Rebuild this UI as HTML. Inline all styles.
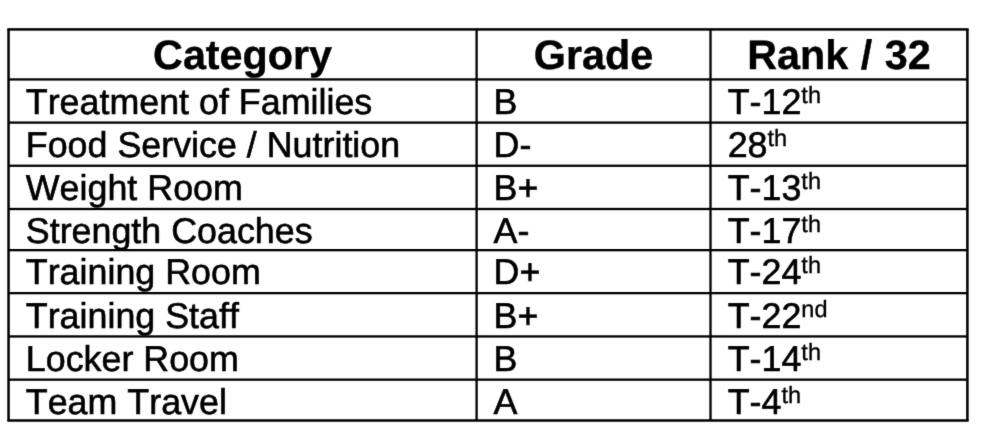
<!DOCTYPE html>
<html lang="en"><head><meta charset="utf-8"><title>Grades</title>
<style>
html,body{margin:0;padding:0;background:#fff;}
body{width:1000px;height:430px;position:relative;overflow:hidden;font-family:"Liberation Sans",sans-serif;color:#000;font-kerning:none;text-rendering:geometricPrecision;-webkit-text-stroke:0.6px #000;}
#wrap{position:absolute;left:0;top:0;width:1000px;height:430px;filter:url(#soft);}
.t{position:absolute;top:0;white-space:nowrap;font-size:35.85px;line-height:0;}
.h{position:absolute;top:0;white-space:nowrap;font-size:41.3px;line-height:0;font-weight:bold;text-align:center;-webkit-text-stroke:0.4px #000;word-spacing:1px;}
i{display:inline-block;width:0;vertical-align:baseline;}
sup{-webkit-text-stroke:0.35px #000;font-size:23.5px;vertical-align:baseline;position:relative;top:-11px;line-height:0;}
</style></head><body><div id="wrap">
<svg width="0" height="0" style="position:absolute"><defs><filter id="soft" x="0" y="0" width="100%" height="100%" color-interpolation-filters="sRGB"><feConvolveMatrix order="3" kernelMatrix="0.01 0.08 0.01 0.08 0.64 0.08 0.01 0.08 0.01" divisor="1" edgeMode="duplicate" preserveAlpha="false"/></filter></defs></svg>
<svg width="1000" height="430" viewBox="0 0 1000 430" style="position:absolute;left:0;top:0" fill="#000">
<rect x="7.30" y="28.16" width="961.35" height="2.50"/>
<rect x="7.30" y="419.25" width="961.35" height="2.50"/>
<rect x="8.55" y="78.29" width="958.85" height="2.30"/>
<rect x="8.55" y="121.45" width="958.85" height="2.30"/>
<rect x="8.55" y="164.60" width="958.85" height="2.30"/>
<rect x="8.55" y="207.85" width="958.85" height="2.30"/>
<rect x="8.55" y="249.00" width="958.85" height="2.30"/>
<rect x="8.55" y="292.00" width="958.85" height="2.30"/>
<rect x="8.55" y="335.29" width="958.85" height="2.30"/>
<rect x="8.55" y="378.50" width="958.85" height="2.30"/>
<rect x="7.30" y="29.41" width="2.50" height="391.09"/>
<rect x="966.15" y="29.41" width="2.50" height="391.09"/>
<rect x="475.45" y="29.41" width="2.30" height="391.09"/>
<rect x="709.35" y="29.41" width="2.30" height="391.09"/>
</svg>
<div class="h" style="left:8.55px;width:468.05px"><i style="height:69px"></i>Category</div>
<div class="h" style="left:476.60px;width:233.90px"><i style="height:69px"></i>Grade</div>
<div class="h" style="left:710.50px;width:256.90px"><i style="height:69px"></i>Rank / 32</div>
<div class="t" style="left:25.80px"><i style="height:114px"></i>Treatment of Families</div>
<div class="t" style="left:493.60px"><i style="height:114px"></i>B</div>
<div class="t" style="left:727.70px"><i style="height:114px"></i>T-12<sup>th</sup></div>
<div class="t" style="left:25.80px"><i style="height:157px"></i>Food Service / Nutrition</div>
<div class="t" style="left:493.60px"><i style="height:157px"></i>D-</div>
<div class="t" style="left:727.70px"><i style="height:157px"></i>28<sup>th</sup></div>
<div class="t" style="left:25.80px"><i style="height:200px"></i>Weight Room</div>
<div class="t" style="left:493.60px"><i style="height:200px"></i>B+</div>
<div class="t" style="left:727.70px"><i style="height:200px"></i>T-13<sup>th</sup></div>
<div class="t" style="left:25.80px;height:250px;overflow:hidden"><i style="height:243px"></i>Strength Coaches</div>
<div class="t" style="left:493.60px"><i style="height:243px"></i>A-</div>
<div class="t" style="left:727.70px"><i style="height:243px"></i>T-17<sup>th</sup></div>
<div class="t" style="left:25.80px"><i style="height:284px"></i>Training Room</div>
<div class="t" style="left:493.60px"><i style="height:284px"></i>D+</div>
<div class="t" style="left:727.70px"><i style="height:284px"></i>T-24<sup>th</sup></div>
<div class="t" style="left:25.80px"><i style="height:328px"></i>Training Staff</div>
<div class="t" style="left:493.60px"><i style="height:328px"></i>B+</div>
<div class="t" style="left:727.70px"><i style="height:328px"></i>T-22<sup>nd</sup></div>
<div class="t" style="left:25.80px"><i style="height:371px"></i>Locker Room</div>
<div class="t" style="left:493.60px"><i style="height:371px"></i>B</div>
<div class="t" style="left:727.70px"><i style="height:371px"></i>T-14<sup>th</sup></div>
<div class="t" style="left:25.80px"><i style="height:414px"></i>Team Travel</div>
<div class="t" style="left:493.60px"><i style="height:414px"></i>A</div>
<div class="t" style="left:727.70px"><i style="height:414px"></i>T-4<sup>th</sup></div>
</div></body></html>
